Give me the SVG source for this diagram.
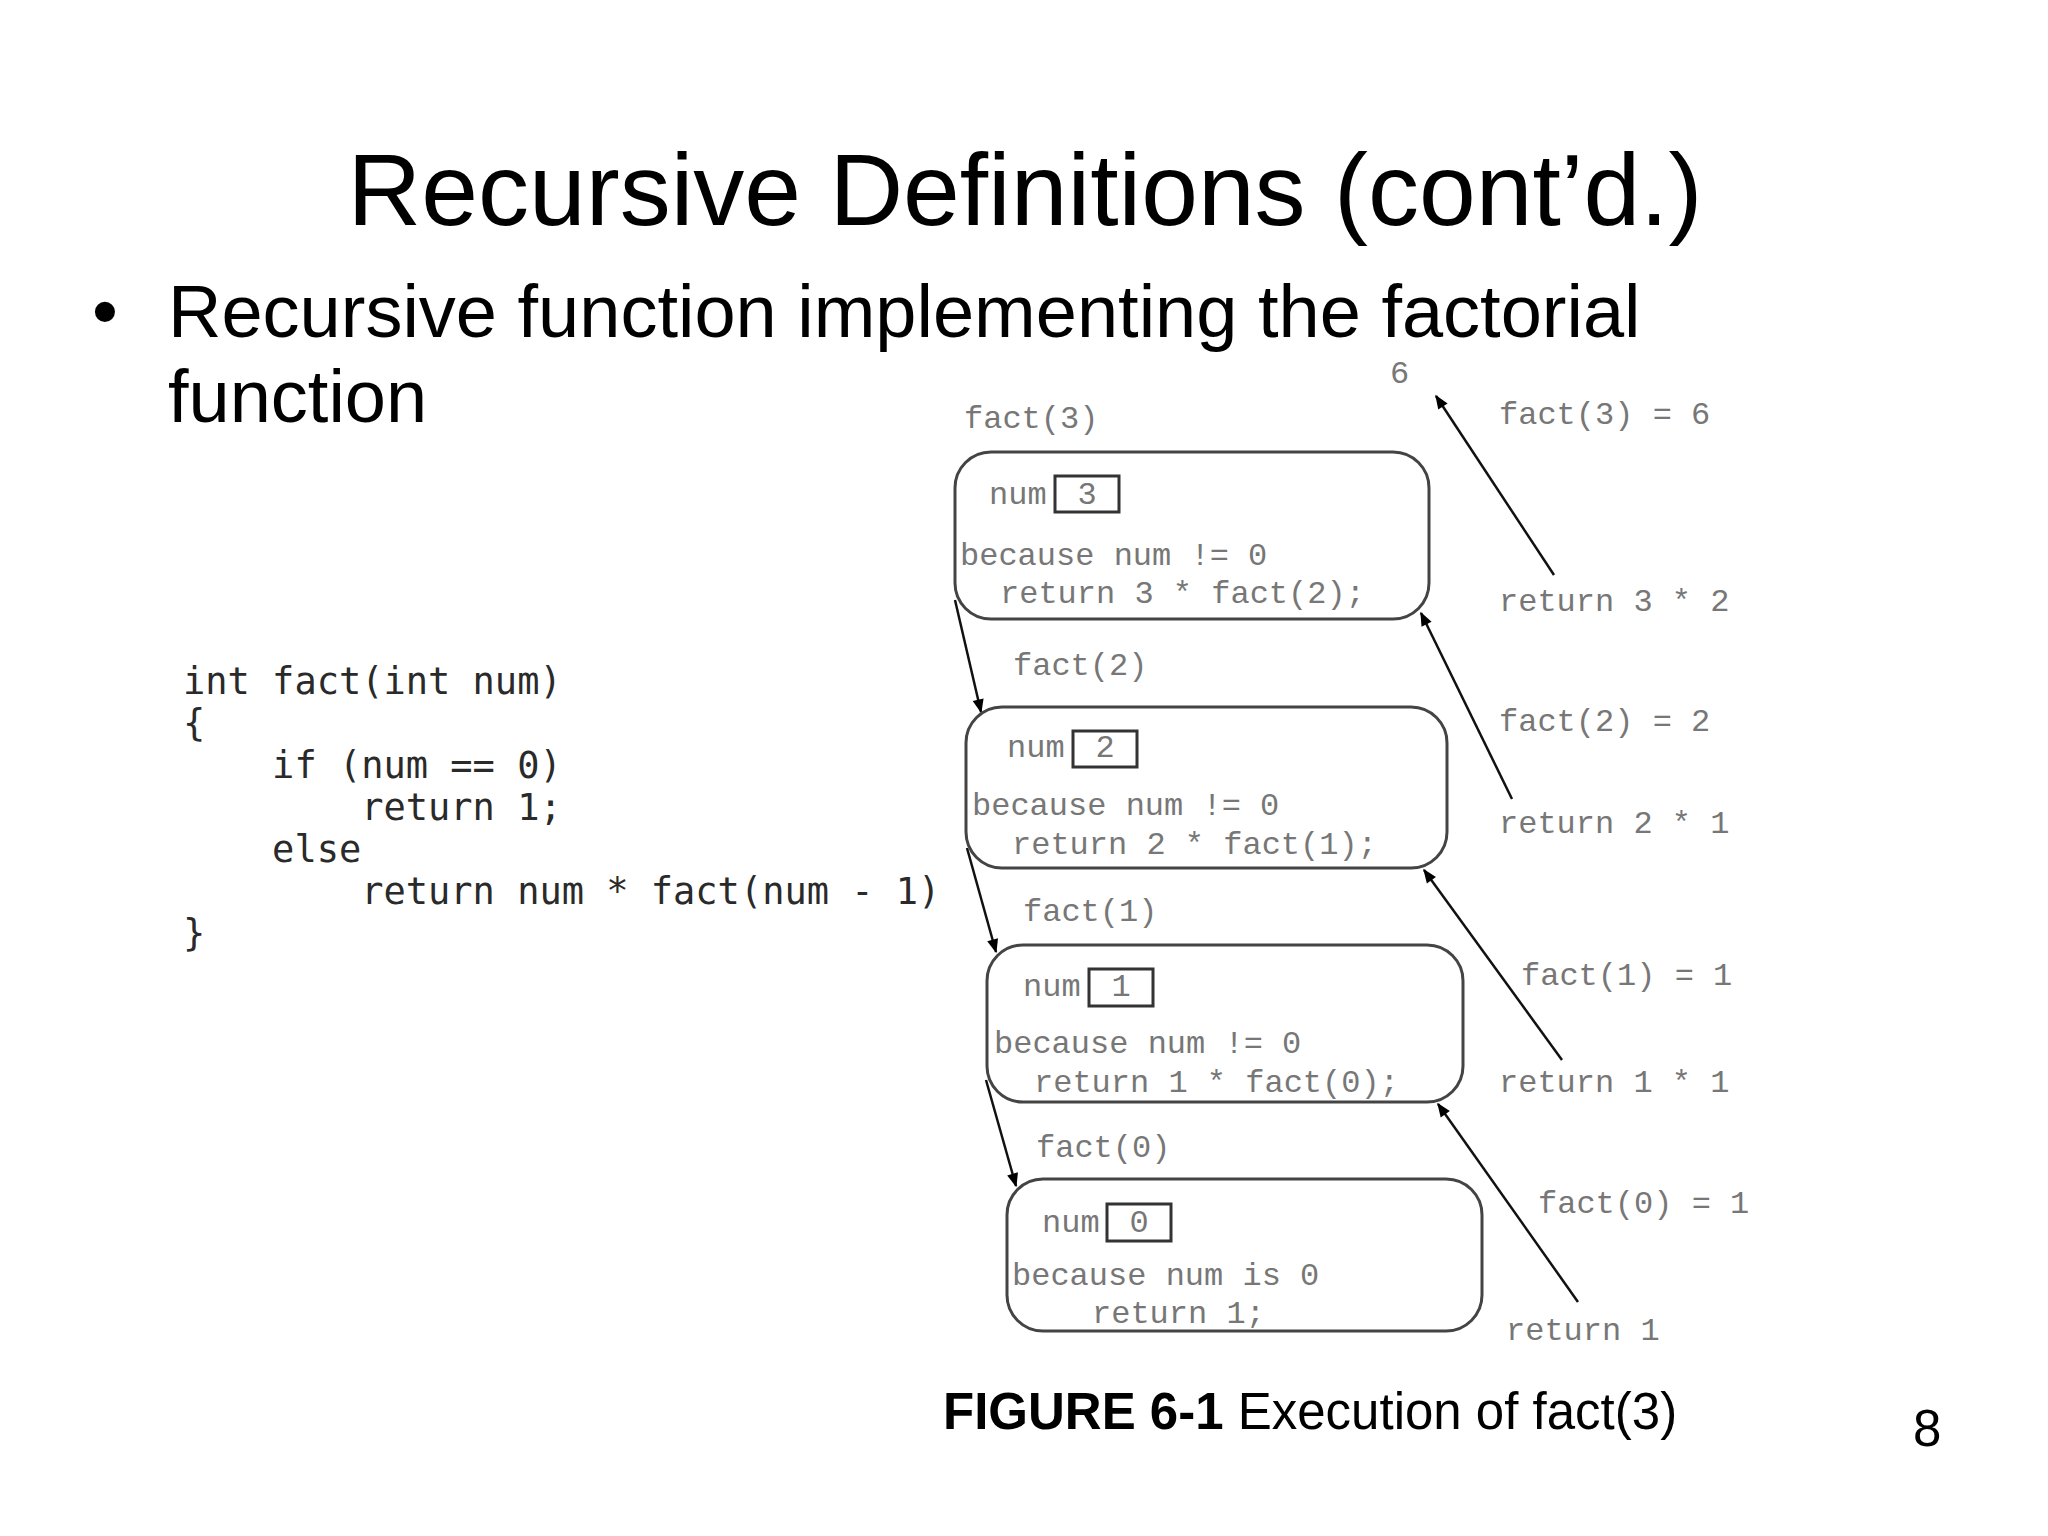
<svg xmlns="http://www.w3.org/2000/svg" width="2048" height="1536" viewBox="0 0 2048 1536">
<style>
.title{font-family:"Liberation Sans",Arial,sans-serif;font-size:102px;fill:#000}
.bullet{font-family:"Liberation Sans",Arial,sans-serif;font-size:74px;fill:#000}
.code{font-family:"DejaVu Sans Mono","Liberation Mono",monospace;font-size:37px;fill:#2a2a2a;white-space:pre}
.d{font-family:"Liberation Mono","Courier New",monospace;font-size:32px;fill:#777;white-space:pre}
.frame{fill:#fff;stroke:#444;stroke-width:3}
.nbox{fill:#fff;stroke:#333;stroke-width:3}
.conn{stroke:#111;stroke-width:2.5;fill:none}
.cap{font-family:"Liberation Sans",Arial,sans-serif;font-size:51px;fill:#000}
</style>
<defs>
<marker id="ahb" viewBox="0 0 10 10" refX="9" refY="5" markerWidth="16" markerHeight="14" orient="auto" markerUnits="userSpaceOnUse">
<path d="M0,1 L10,5 L0,9 z" fill="#000"/>
</marker>
</defs>
<rect width="2048" height="1536" fill="#fff"/>
<text class="title" x="1025" y="225" text-anchor="middle">Recursive Definitions (cont’d.)</text>
<text class="bullet" x="92" y="337">•</text>
<text class="bullet" x="168" y="337">Recursive function implementing the factorial</text>
<text class="bullet" x="168" y="422">function</text>
<g id="code">
<text class="code" x="183" y="694">int fact(int num)</text>
<text class="code" x="183" y="736">{</text>
<text class="code" x="183" y="778">    if (num == 0)</text>
<text class="code" x="183" y="820">        return 1;</text>
<text class="code" x="183" y="862">    else</text>
<text class="code" x="183" y="904">        return num * fact(num - 1)</text>
<text class="code" x="183" y="946">}</text>
</g>
<g id="connectors">
<line class="conn" x1="955" y1="600" x2="981" y2="712" marker-end="url(#ahb)"/>
<line class="conn" x1="967" y1="848" x2="996" y2="952" marker-end="url(#ahb)"/>
<line class="conn" x1="986" y1="1080" x2="1016" y2="1186" marker-end="url(#ahb)"/>
<line class="conn" x1="1554" y1="575" x2="1436" y2="396" marker-end="url(#ahb)"/>
<line class="conn" x1="1512" y1="799" x2="1421" y2="613" marker-end="url(#ahb)"/>
<line class="conn" x1="1562" y1="1060" x2="1424" y2="870" marker-end="url(#ahb)"/>
<line class="conn" x1="1578" y1="1302" x2="1438" y2="1104" marker-end="url(#ahb)"/>
</g>
<g id="frame3">
<text class="d" x="964" y="428">fact(3)</text>
<rect class="frame" x="955" y="452" width="474" height="167" rx="36"/>
<text class="d" x="989" y="504">num</text>
<rect class="nbox" x="1055" y="476" width="64" height="36"/>
<text class="d" x="1087" y="504" text-anchor="middle">3</text>
<text class="d" x="960" y="565">because num != 0</text>
<text class="d" x="1000" y="603">return 3 * fact(2);</text>
</g>
<g id="frame2">
<text class="d" x="1013" y="675">fact(2)</text>
<rect class="frame" x="966" y="707" width="481" height="161" rx="36"/>
<text class="d" x="1007" y="757">num</text>
<rect class="nbox" x="1073" y="731" width="64" height="36"/>
<text class="d" x="1105" y="757" text-anchor="middle">2</text>
<text class="d" x="972" y="815">because num != 0</text>
<text class="d" x="1012" y="854">return 2 * fact(1);</text>
</g>
<g id="frame1">
<text class="d" x="1023" y="921">fact(1)</text>
<rect class="frame" x="987" y="945" width="476" height="157" rx="36"/>
<text class="d" x="1023" y="996">num</text>
<rect class="nbox" x="1089" y="969" width="64" height="37"/>
<text class="d" x="1121" y="996" text-anchor="middle">1</text>
<text class="d" x="994" y="1053">because num != 0</text>
<text class="d" x="1034" y="1092">return 1 * fact(0);</text>
</g>
<g id="frame0">
<text class="d" x="1036" y="1157">fact(0)</text>
<rect class="frame" x="1007" y="1179" width="475" height="152" rx="36"/>
<text class="d" x="1042" y="1232">num</text>
<rect class="nbox" x="1107" y="1204" width="64" height="37"/>
<text class="d" x="1139" y="1232" text-anchor="middle">0</text>
<text class="d" x="1012" y="1285">because num is 0</text>
<text class="d" x="1092" y="1323">return 1;</text>
</g>
<g id="returns">
<text class="d" x="1390" y="383" font-size="26">6</text>
<text class="d" x="1499" y="424">fact(3) = 6</text>
<text class="d" x="1499" y="611">return 3 * 2</text>
<text class="d" x="1499" y="731">fact(2) = 2</text>
<text class="d" x="1499" y="833">return 2 * 1</text>
<text class="d" x="1521" y="985">fact(1) = 1</text>
<text class="d" x="1499" y="1092">return 1 * 1</text>
<text class="d" x="1538" y="1213">fact(0) = 1</text>
<text class="d" x="1506" y="1340">return 1</text>
</g>
<text class="cap" x="943" y="1429"><tspan font-weight="bold">FIGURE 6-1</tspan> Execution of fact(3)</text>
<text class="cap" x="1913" y="1446" font-size="38">8</text>
</svg>
